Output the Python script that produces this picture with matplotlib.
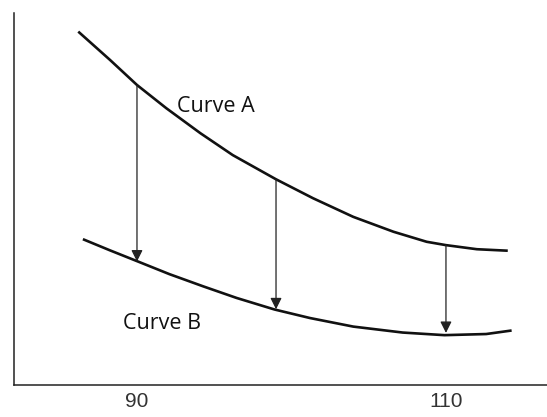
import matplotlib
matplotlib.use("Agg")
import matplotlib.pyplot as plt

# curve values (y axis is unitless, 0..100)
curve_a_x = [86.2, 88.25, 90.0, 91.9, 94.1, 96.2, 99.0, 101.4, 104.0, 106.6, 108.75, 110.0, 112.0, 114.0]
curve_a_y = [95.0, 87.4, 80.65, 74.4, 67.7, 61.8, 55.3, 50.2, 45.2, 41.2, 38.5, 37.6, 36.5, 36.1]

curve_b_x = [86.5, 88.25, 90.0, 92.1, 94.3, 96.45, 98.9, 101.2, 104.0, 107.2, 109.9, 112.6, 114.25]
curve_b_y = [39.2, 36.2, 33.3, 29.8, 26.5, 23.4, 20.3, 18.0, 15.7, 14.1, 13.4, 13.7, 14.65]

# vertical arrows from curve A down to curve B
arrow_x = [90, 99, 110]
arrow_top = [80.65, 55.3, 37.6]
arrow_bottom = [33.2, 20.35, 14.0]

tick_pos = [90, 110]
tick_labels = ["90", "110"]

fig = plt.figure(figsize=(5.47, 4.17), dpi=100)
ax = fig.add_axes([14 / 547, 32 / 417, 1 - 14 / 547, 372 / 417])

ax.plot(curve_a_x, curve_a_y, color="#111111", lw=1.9, solid_capstyle="butt", solid_joinstyle="round")
ax.plot(curve_b_x, curve_b_y, color="#111111", lw=1.9, solid_capstyle="butt", solid_joinstyle="round")

for x, top, bot in zip(arrow_x, arrow_top, arrow_bottom):
    ax.annotate("", xy=(x, bot), xytext=(x, top),
                arrowprops=dict(arrowstyle="-|>", color="#222222", lw=0.9,
                                mutation_scale=17, shrinkA=0, shrinkB=0))

ax.text(92.6, 75.0, "Curve A", fontsize=15.5, family="Open Sans",
        color="#111111", va="center", ha="left")
ax.text(89.1, 16.6, "Curve B", fontsize=15.5, family="Open Sans",
        color="#111111", va="center", ha="left")

ax.set_xlim(82.04, 116.54)
ax.set_ylim(0, 100)
ax.set_xticks(tick_pos)
ax.set_xticklabels(tick_labels, fontsize=15, family="Liberation Sans", color="#333333")
ax.set_yticks([])
ax.tick_params(axis="x", length=0, pad=5)

for side in ["top", "right"]:
    ax.spines[side].set_visible(False)
for side in ["left", "bottom"]:
    ax.spines[side].set_linewidth(1.1)
    ax.spines[side].set_color("#222222")

fig.savefig("out.png", dpi=100)
